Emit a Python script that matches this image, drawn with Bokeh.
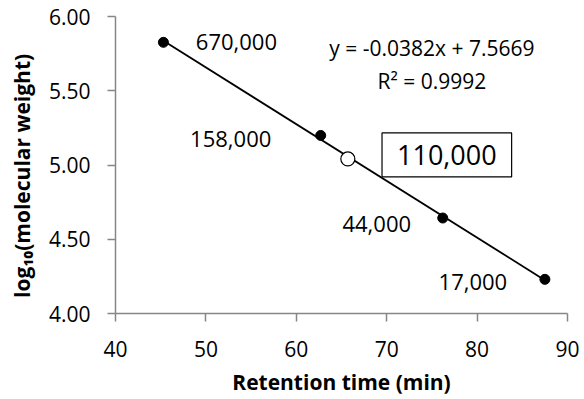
from bokeh.plotting import figure
from bokeh.models import Label, Range1d, FixedTicker, NumeralTickFormatter, ColumnDataSource
from bokeh.core.properties import value
from bokeh.embed import file_html
from bokeh.resources import INLINE

# Data
retention_time = [45.3, 62.7, 76.2, 87.5]
log_mw = [5.826, 5.199, 4.643, 4.230]
mw_labels = ["670,000", "158,000", "44,000", "17,000"]
unknown_time = [65.7]
unknown_log_mw = [5.041]
unknown_label = "110,000"
slope = -0.0382
intercept = 7.5669
r_squared = 0.9992
x_ticks = [40, 50, 60, 70, 80, 90]
y_ticks = [4.0, 4.5, 5.0, 5.5, 6.0]

FONT = "Open Sans"

p = figure(width=584, height=399, output_backend="svg", toolbar_location=None,
           x_range=Range1d(40, 90), y_range=Range1d(4.0, 6.0),
           min_border_left=115, min_border_right=17, min_border_top=16, min_border_bottom=86)
p.outline_line_color = None
p.xgrid.visible = False
p.ygrid.visible = False

for ax in (p.xaxis, p.yaxis):
    ax.axis_line_color = "#868686"
    ax.axis_line_width = 1.5
    ax.major_tick_line_color = "#868686"
    ax.major_tick_line_width = 1.5
    ax.major_tick_out = 8
    ax.major_tick_in = 0
    ax.minor_tick_line_color = None
    ax.major_label_text_font = FONT
    ax.major_label_text_font_size = "21px"
    ax.major_label_text_color = "black"
    ax.axis_label_text_font = FONT
    ax.axis_label_text_font_style = "bold"
    ax.axis_label_text_font_size = "21px"
    ax.axis_label_text_color = "black"

p.xaxis.ticker = FixedTicker(ticks=x_ticks)
p.yaxis.ticker = FixedTicker(ticks=y_ticks)
p.yaxis.formatter = NumeralTickFormatter(format="0.00")
p.xaxis.axis_label = "Retention time (min)"
p.yaxis.axis_label = "log₁₀(molecular weight)" + "\u00a0" * 4
p.xaxis.major_label_standoff = 19
p.yaxis.major_label_standoff = 17
p.xaxis.axis_label_standoff = 8
p.yaxis.axis_label_standoff = 10

# trendline over data span
x0, x1 = min(retention_time), max(retention_time)
p.line([x0, x1], [slope * x0 + intercept, slope * x1 + intercept], line_color="black", line_width=1.8)

p.scatter(retention_time, log_mw, size=10, fill_color="black", line_color="black")
p.scatter(unknown_time, unknown_log_mw, size=14, fill_color="white", line_color="black", line_width=1.2)

x_offsets = [73, -90, -66, -72]
y_offsets = [0, 4, 6, 3]
src = ColumnDataSource(dict(x=retention_time, y=log_mw, t=mw_labels, xo=x_offsets, yo=y_offsets))
p.text(x="x", y="y", text="t", x_offset="xo", y_offset="yo", source=src,
       text_font=value(FONT), text_font_size="22px", text_align="center",
       text_baseline="middle", text_color="black")

box = Label(x=unknown_time[0], y=unknown_log_mw[0], x_offset=99, y_offset=4, text=unknown_label,
            text_font=FONT, text_font_size="27px", text_align="center", text_baseline="middle",
            text_color="black",
            border_line_color="black", border_line_width=1.2, background_fill_color="white",
            padding=dict(left=15, right=15, top=12, bottom=12))
p.add_layout(box)

eq1 = Label(x=75.0, y=5.785, text=f"y = {slope:.4f}x + {intercept:.4f}", text_font=FONT,
            text_font_size="21px", text_align="center", text_baseline="middle", text_color="black")
eq2 = Label(x=75.0, y=5.569, text=f"R² = {r_squared:.4f}", text_font=FONT,
            text_font_size="21px", text_align="center", text_baseline="middle", text_color="black")
p.add_layout(eq1)
p.add_layout(eq2)

open("out.html", "w").write(file_html(p, INLINE))
